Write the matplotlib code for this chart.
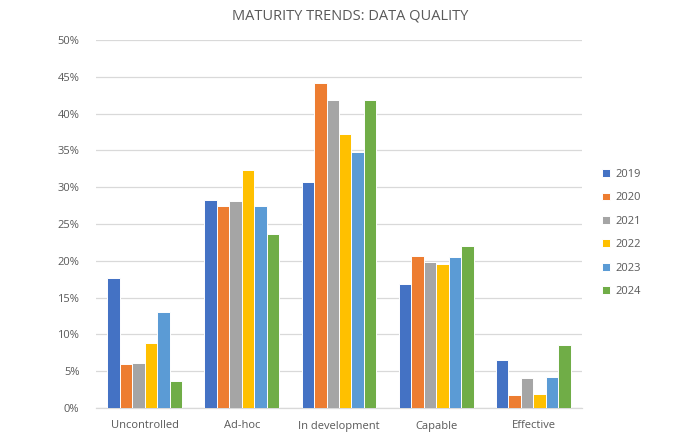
import matplotlib
matplotlib.use("Agg")
import matplotlib.pyplot as plt
import numpy as np
from matplotlib.ticker import FuncFormatter

plt.rcParams['font.family'] = ['Open Sans', 'DejaVu Sans']

categories = ["Uncontrolled", "Ad-hoc", "In development", "Capable", "Effective"]
years = ["2019", "2020", "2021", "2022", "2023", "2024"]
v2019 = [17.6, 28.3, 30.7, 16.8, 6.5]
v2020 = [6.0, 27.5, 44.2, 20.6, 1.7]
v2021 = [6.1, 28.1, 41.8, 19.8, 4.1]
v2022 = [8.8, 32.4, 37.2, 19.6, 1.9]
v2023 = [13.0, 27.4, 34.8, 20.5, 4.2]
v2024 = [3.7, 23.6, 41.9, 22.0, 8.6]
series = [v2019, v2020, v2021, v2022, v2023, v2024]
colors = ["#4472C4", "#ED7D31", "#A5A5A5", "#FFC000", "#5B9BD5", "#70AD47"]

fig = plt.figure(figsize=(7, 4.41), dpi=100)
ax = fig.add_axes([96/700, 1-408/441, (582-96)/700, (408-40)/441])

x = np.arange(len(categories))
group = 0.77
w = group / len(series)
for i, (vals, c, yr) in enumerate(zip(series, colors, years)):
    ax.bar(x - group/2 + w*(i+0.5), vals, width=w, color=c, edgecolor="white",
           linewidth=0.7, label=yr, zorder=3)

ax.set_xlim(-0.5, len(categories)-0.5)
ax.set_ylim(0, 50)
ax.set_yticks(np.arange(0, 51, 5))
ax.yaxis.set_major_formatter(FuncFormatter(lambda v, p: f"{int(v)}%"))
ax.set_xticks(x)
ax.set_xticklabels(categories)
ax.grid(axis="y", color="#D9D9D9", linewidth=0.9, zorder=0)
for s in ["top", "right", "left"]:
    ax.spines[s].set_visible(False)
ax.spines["bottom"].set_color("#D9D9D9")
ax.spines["bottom"].set_linewidth(0.9)
ax.tick_params(axis="both", length=0, labelsize=8, colors="#595959")
ax.tick_params(axis="x", pad=9)
ax.tick_params(axis="y", pad=12)

fig.text(0.5, 1-16/441, "MATURITY TRENDS: DATA QUALITY", ha="center", va="center",
         fontsize=10.5, color="#595959")

handles, labels = ax.get_legend_handles_labels()
leg = fig.legend(handles, labels, loc="center left", bbox_to_anchor=(592/700, 1-233/441),
                 frameon=False, fontsize=8, handlelength=0.7, handleheight=0.7,
                 handletextpad=0.5, labelspacing=1.12, labelcolor="#595959")

fig.savefig("out.png", dpi=100)
